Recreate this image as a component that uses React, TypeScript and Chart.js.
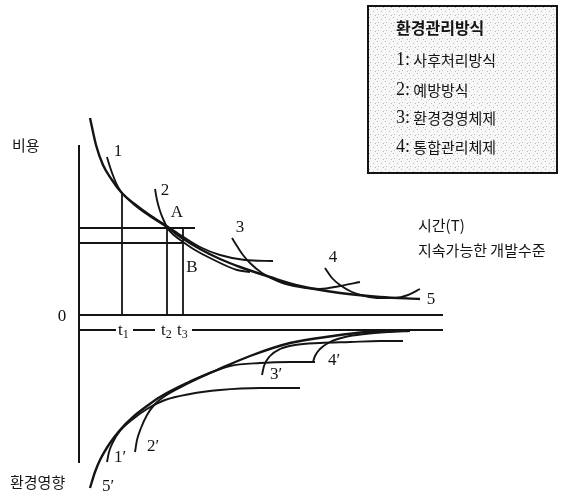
import React, { useEffect, useRef } from "react";
import { Chart, registerables } from "chart.js";

Chart.register(...registerables);

type P = [number, number];

// Cost curves (x = time, y = cost above the 0 line)
const curve5: P[] = [[12,197],[18,170],[25,150],[34,135],[43,123],[57,110],[72,99],[89,88],[104,77],[122,66],[142,56],[162,48],[192,38],[222,29],[262,22],[302,18],[342,16]];
const curve1: P[] = [[29,158],[32,148],[36,137],[40,128],[44,122],[57,111],[72,100],[89,89],[104,79],[122,68],[142,60],[167,55],[195,54]];
const curve2: P[] = [[77,126],[79,115],[82,104],[86,94],[90,86],[97,79],[105,73],[117,65],[132,57],[159,45],[172,43]];
const curve3: P[] = [[154,77],[159,69],[165,60],[172,52],[184,42],[202,33],[222,28],[242,26],[262,29],[282,33]];
const curve4: P[] = [[247,47],[254,37],[262,30],[274,23],[287,19],[302,17],[317,17],[330,20],[342,26]];

// Environmental impact curves (below the 0 line)
const curve5p: P[] = [[12,-173],[17,-157],[22,-145],[32,-128],[42,-115],[55,-102],[69,-91],[82,-82],[109,-68],[139,-55],[172,-41],[212,-28],[255,-21],[289,-17],[317,-16]];
const curve1p: P[] = [[29,-147],[31,-137],[35,-127],[42,-116],[55,-104],[69,-94],[87,-85],[112,-79],[142,-75],[182,-73],[222,-73]];
const curve2p: P[] = [[57,-137],[59,-125],[63,-113],[69,-100],[77,-89],[87,-81],[109,-69],[132,-58],[152,-51],[182,-48],[212,-47],[237,-47]];
const curve3p: P[] = [[184,-60],[186,-51],[192,-41],[202,-34],[217,-30],[242,-28],[272,-27],[302,-26],[325,-26]];
const curve4p: P[] = [[235,-47],[237,-41],[242,-34],[252,-27],[267,-22],[287,-19],[312,-17],[332,-16]];

// Straight reference lines
const costAxis: P[] = [[1,170],[1,-148]];
const zeroLine: P[] = [[0,0],[365,0]];
const timeLineSegments: P[][] = [[[0,-15],[38,-15]],[[55,-15],[77,-15]],[[114,-15],[365,-15]]];
const levelA: P[] = [[0,87],[117,87]];
const levelB: P[] = [[0,72],[104,72]];
const tLines: P[][] = [[[44,122],[44,0]],[[89,87],[89,0]],[[105,87],[105,0]]];

// Text
const legendTitle = "환경관리방식";
const legendItems = ["1: 사후처리방식", "2: 예방방식", "3: 환경경영체제", "4: 통합관리체제"];
const tLabels = ["1", "2", "3"];
const curveLabels = ["1", "2", "3", "4", "5"];
const pointLabels = ["A", "B"];
const impactLabels = ["1′", "2′", "3′", "4′", "5′"];
const axisTexts = ["비용", "환경영향", "0", "시간(T)", "지속가능한 개발수준"];

const toXY = (arr: P[]) => arr.map(([x, y]) => ({ x, y }));

export default function App() {
  const ref = useRef<HTMLCanvasElement | null>(null);

  useEffect(() => {
    if (!ref.current) return;
    const ink = "#141414";
    const serif = "'Liberation Serif', 'DejaVu Serif', serif";
    const kr = "'Noto Sans CJK KR', sans-serif";

    const curve = (data: P[], w = 1.9) => ({
      data: toXY(data),
      showLine: true,
      borderColor: ink,
      borderWidth: w,
      pointRadius: 0,
      cubicInterpolationMode: "monotone" as const,
      fill: false,
    });
    const straight = (data: P[], w = 1.8) => ({
      data: toXY(data),
      showLine: true,
      borderColor: ink,
      borderWidth: w,
      pointRadius: 0,
      tension: 0,
      fill: false,
    });

    const datasets: any[] = [
      curve(curve5, 2.4), curve(curve1), curve(curve2), curve(curve3), curve(curve4),
      curve(curve5p, 2.4), curve(curve1p), curve(curve2p), curve(curve3p), curve(curve4p),
      straight(costAxis, 2), straight(zeroLine, 2),
      ...timeLineSegments.map((s) => straight(s, 2)),
      straight(levelA), straight(levelB),
      ...tLines.map((s) => straight(s)),
    ];

    // annotation placements (data coords)
    const textPlacements: { text: string; x: number; y: number; font: string; align?: CanvasTextAlign }[] = [
      { text: axisTexts[0], x: -66, y: 170, font: `15px ${kr}`, align: "left" },
      { text: axisTexts[1], x: -68, y: -167, font: `15px ${kr}`, align: "left" },
      { text: axisTexts[2], x: -16, y: -2, font: `17px ${serif}` },
      { text: axisTexts[3], x: 340, y: 90, font: `15px ${kr}`, align: "left" },
      { text: axisTexts[4], x: 340, y: 65, font: `15px ${kr}`, align: "left" },
      { text: curveLabels[0], x: 40, y: 163, font: `17px ${serif}` },
      { text: curveLabels[1], x: 87, y: 124, font: `17px ${serif}` },
      { text: curveLabels[2], x: 162, y: 87, font: `17px ${serif}` },
      { text: curveLabels[3], x: 255, y: 57, font: `17px ${serif}` },
      { text: curveLabels[4], x: 353, y: 15, font: `17px ${serif}` },
      { text: pointLabels[0], x: 99, y: 102, font: `17px ${serif}` },
      { text: pointLabels[1], x: 114, y: 47, font: `17px ${serif}` },
      { text: impactLabels[0], x: 42, y: -143, font: `17px ${serif}` },
      { text: impactLabels[1], x: 75, y: -132, font: `17px ${serif}` },
      { text: impactLabels[2], x: 198, y: -60, font: `17px ${serif}` },
      { text: impactLabels[3], x: 256, y: -46, font: `17px ${serif}` },
      { text: impactLabels[4], x: 30, y: -172, font: `17px ${serif}` },
    ];
    const tLabelX = [45, 88, 104];
    const tLabelY = -15;

    const legendBox = { x0: 290, y0: 309, x1: 479, y1: 142 };
    const legendTextX = 318;
    const legendRowsY = [287, 255, 225, 197, 168];

    const annotate = {
      id: "annotate",
      afterDatasetsDraw(chart: any) {
        const { ctx, scales } = chart;
        const xs = scales.x, ys = scales.y;
        ctx.save();
        // legend box with stippled fill
        const pc = document.createElement("canvas");
        pc.width = 8; pc.height = 8;
        const pctx = pc.getContext("2d")!;
        pctx.fillStyle = "#f7f7f7";
        pctx.fillRect(0, 0, 8, 8);
        pctx.fillStyle = "#b8b8b8";
        [[1, 1], [5, 3], [2, 6], [7, 7]].forEach(([a, b]) => pctx.fillRect(a, b, 1, 1));
        const pat = ctx.createPattern(pc, "repeat");
        const bx = xs.getPixelForValue(legendBox.x0);
        const by = ys.getPixelForValue(legendBox.y0);
        const bw = xs.getPixelForValue(legendBox.x1) - bx;
        const bh = ys.getPixelForValue(legendBox.y1) - by;
        ctx.fillStyle = pat || "#f0f0f0";
        ctx.fillRect(bx, by, bw, bh);
        ctx.strokeStyle = ink;
        ctx.lineWidth = 2;
        ctx.strokeRect(bx, by, bw, bh);

        ctx.fillStyle = ink;
        ctx.textBaseline = "middle";
        ctx.textAlign = "left";
        ctx.font = `bold 16px ${kr}`;
        ctx.fillText(legendTitle, xs.getPixelForValue(legendTextX), ys.getPixelForValue(legendRowsY[0]));
        legendItems.forEach((t, i) => {
          const px = xs.getPixelForValue(legendTextX);
          const py = ys.getPixelForValue(legendRowsY[i + 1]);
          const [num, rest] = t.split(":");
          ctx.font = `18px ${serif}`;
          ctx.fillText(num + ":", px, py);
          const w = ctx.measureText(num + ":").width;
          ctx.font = `15px ${kr}`;
          ctx.fillText(rest, px + w, py);
        });

        textPlacements.forEach((l) => {
          ctx.font = l.font;
          ctx.textAlign = l.align || "center";
          ctx.textBaseline = "middle";
          ctx.fillText(l.text, xs.getPixelForValue(l.x), ys.getPixelForValue(l.y));
        });

        // t labels with subscripts
        tLabels.forEach((d, i) => {
          const px = xs.getPixelForValue(tLabelX[i]);
          const py = ys.getPixelForValue(tLabelY);
          ctx.textAlign = "left";
          ctx.textBaseline = "alphabetic";
          ctx.font = `17px ${serif}`;
          const tw = ctx.measureText("t").width;
          ctx.fillText("t", px - 5, py + 5);
          ctx.font = `12px ${serif}`;
          ctx.fillText(d, px - 5 + tw, py + 8);
        });
        ctx.restore();
      },
    };

    const chart = new Chart(ref.current, {
      type: "scatter",
      data: { datasets },
      options: {
        animation: false,
        responsive: false,
        events: [],
        layout: { padding: 0, autoPadding: false } as any,
        plugins: { legend: { display: false }, tooltip: { enabled: false } },
        scales: {
          x: { type: "linear", min: -78, max: 502, display: false },
          y: { type: "linear", min: -182, max: 315, display: false },
        },
      },
      plugins: [annotate],
    });
    return () => chart.destroy();
  }, []);

  return (
    <div style={{ position: "absolute", left: 0, top: 0, width: 580, height: 497, background: "#fff" }}>
      <canvas ref={ref} width={580} height={497} />
    </div>
  );
}
